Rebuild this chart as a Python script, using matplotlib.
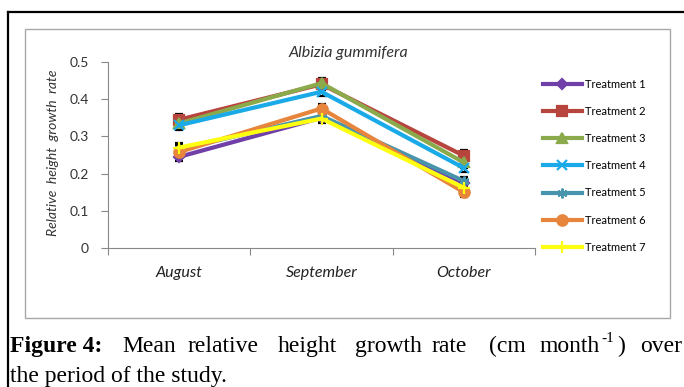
import matplotlib
matplotlib.use("Agg")
import matplotlib.pyplot as plt
from matplotlib.patches import Rectangle
from matplotlib.lines import Line2D

W, H = 684, 387

months = ["August", "September", "October"]
treatments = ["Treatment 1", "Treatment 2", "Treatment 3", "Treatment 4",
              "Treatment 5", "Treatment 6", "Treatment 7"]
t1 = [0.245, 0.350, 0.175]
t2 = [0.345, 0.440, 0.248]
t3 = [0.335, 0.443, 0.230]
t4 = [0.330, 0.420, 0.215]
t5 = [0.265, 0.355, 0.180]
t6 = [0.258, 0.375, 0.150]
t7 = [0.270, 0.348, 0.162]
errs = [0.012, 0.015, 0.015, 0.012, 0.012, 0.012, 0.012]
yticks = [0, 0.1, 0.2, 0.3, 0.4, 0.5]
ytick_labels = ["0", "0.1", "0.2", "0.3", "0.4", "0.5"]

series = [t1, t2, t3, t4, t5, t6, t7]
colors = ["#7040A8", "#B8443E", "#8AAA4C", "#1AAAE8", "#4894AC", "#E8853C", "#FFFF10"]
markers = ["D", "s", "^", "x", (6, 2, 0), "o", "+"]
msizes = [5.5, 7, 7, 7, 7, 7.5, 8]

sans = ["Lato", "DejaVu Sans"]
serif = ["Liberation Serif", "DejaVu Serif"]


def fx(x):
    return x / W


def fy(y):
    return 1 - y / H


fig = plt.figure(figsize=(W / 100, H / 100), dpi=100)

# black border of the figure box and grey chart frame
fig.add_artist(Line2D([fx(8), fx(8)], [fy(12), 0], color="black", lw=1.6))
fig.add_artist(Line2D([fx(8), 1], [fy(12), fy(12)], color="black", lw=1.6))
fig.add_artist(Rectangle((fx(25), fy(318)), fx(670) - fx(25), fy(29) - fy(318),
                         transform=fig.transFigure, fill=False, ec="#a8a8a8", lw=1))

ax = fig.add_axes([fx(108), fy(248), fx(535) - fx(108), fy(62) - fy(248)])
x = list(range(len(months)))
lines = []
for vals, err, col, mk, ms in zip(series, errs, colors, markers, msizes):
    cont = ax.errorbar(x, vals, yerr=err, color=col, lw=3, marker=mk, ms=ms,
                       mfc=col, mec=col, mew=1.6, ecolor="black", elinewidth=0.7,
                       capsize=3, capthick=0.7)
    lines.append(cont[0])

ax.set_xlim(-0.5, 2.5)
ax.set_ylim(0, 0.5)
ax.set_yticks(yticks)
ax.set_yticklabels(ytick_labels, family=sans, fontsize=10, color="#333333")
ax.set_xticks([-0.5, 0.5, 1.5, 2.5])
ax.set_xticklabels([])
ax.set_xticks(x, minor=True)
ax.set_xticklabels(months, minor=True, family=sans, style="italic", fontsize=11.5, color="#222222")
ax.tick_params(axis="x", which="major", length=5, color="#888888", width=0.8)
ax.tick_params(axis="x", which="minor", length=0, pad=13)
ax.tick_params(axis="y", length=5, color="#888888", width=0.8, pad=9)
for s in ["top", "right"]:
    ax.spines[s].set_visible(False)
for s in ["left", "bottom"]:
    ax.spines[s].set_color("#888888")
    ax.spines[s].set_linewidth(0.8)

fig.text(fx(348), fy(53), "Albizia gummifera", family=sans, style="italic",
         fontsize=11.5, color="#333333", ha="center", va="center")
fig.text(fx(53), fy(153), "Relative  height  growth  rate", family=sans, style="italic",
         fontsize=10, color="#333333", ha="center", va="center", rotation=90)

ax.legend(lines, treatments, loc="upper left", bbox_to_anchor=(fx(543), fy(79)),
          bbox_transform=fig.transFigure, frameon=False, prop={"family": sans, "size": 8},
          handlelength=3.5, handletextpad=0.25, labelspacing=1.45, borderpad=0,
          borderaxespad=0)

# caption, first line justified word by word
words = [("Mean", 122), ("relative", 188), ("height", 278), ("growth", 355),
         ("rate", 432), ("(cm", 489), ("month", 539), (")", 617), ("over", 640)]
fig.text(fx(10), fy(352), "Figure 4:", family=serif, fontsize=17, weight="bold",
         color="black", va="baseline")
for w, px in words:
    fig.text(fx(px), fy(352), w, family=serif, fontsize=17, color="black", va="baseline")
fig.text(fx(601), fy(342), "-1", family=serif, fontsize=11, color="black", va="baseline")
fig.text(fx(10), fy(382), "the period of the study.", family=serif, fontsize=17,
         color="black", va="baseline")

fig.savefig("out.png", dpi=100)
